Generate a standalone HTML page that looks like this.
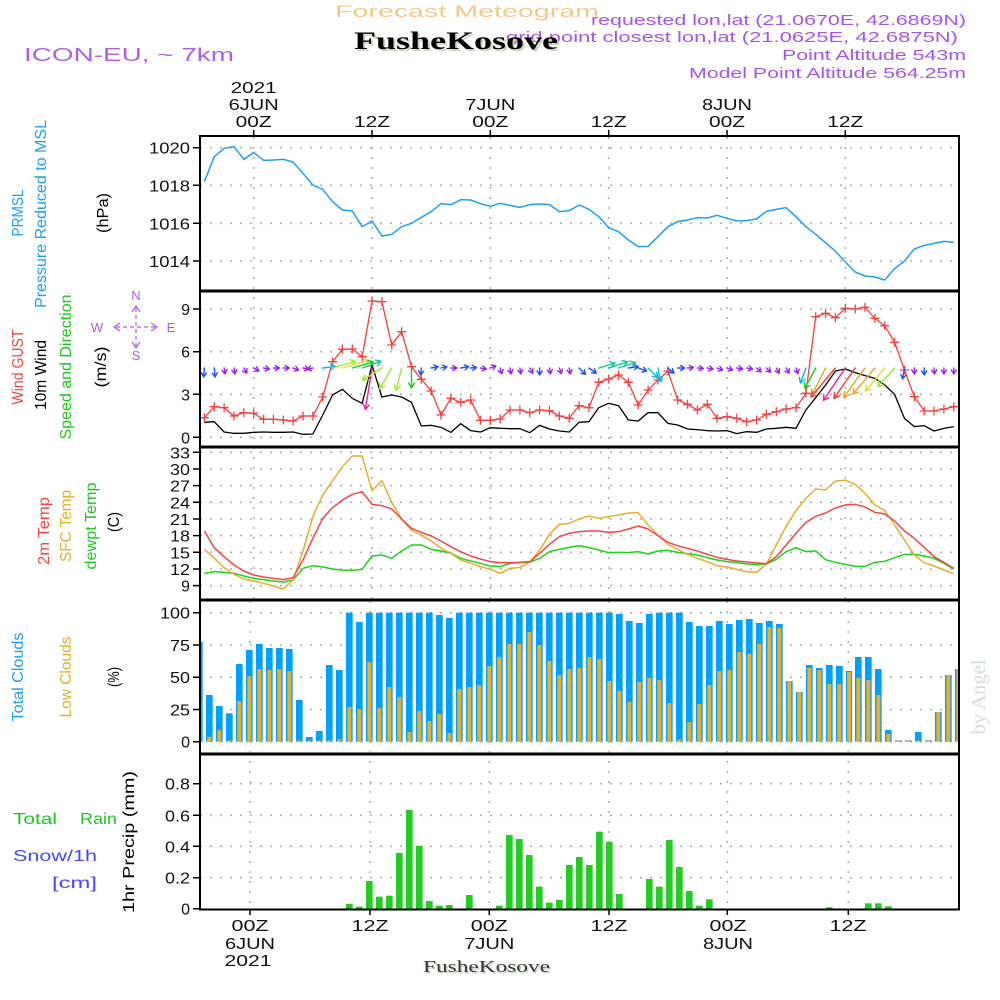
<!DOCTYPE html>
<html><head><meta charset="utf-8"><style>
html,body{margin:0;padding:0;background:#fff;}
svg{display:block;}
text{font-family:"Liberation Sans",sans-serif;}
.serif{font-family:"Liberation Serif",serif;}
.g{stroke:#b0b0b0;stroke-width:1.6;stroke-dasharray:2 8;fill:none;}
.ln{fill:none;vector-effect:non-scaling-stroke;stroke-linejoin:round;}
.ax{stroke:#000;stroke-width:1.5;}
.yl{font-size:16px;fill:#111;text-anchor:end;}
.tl{font-size:16px;fill:#111;text-anchor:middle;}
.ar{fill:none;stroke-width:1.4;stroke-linecap:round;stroke-linejoin:round;}
</style></head><body>
<svg width="1000" height="1000" viewBox="0 0 1000 1000" xmlns="http://www.w3.org/2000/svg">
<defs>
<clipPath id="plot"><rect x="200" y="136" width="759" height="774"/></clipPath>
<marker id="plus" viewBox="-5 -5 10 10" markerWidth="10" markerHeight="10" markerUnits="userSpaceOnUse" refX="0" refY="0" overflow="visible"><path d="M-4.5 0H4.5M0 -4.5V4.5" stroke="#f54040" stroke-width="1.3" fill="none"/></marker>
</defs>
<rect width="1000" height="1000" fill="#fff"/>

<!-- Header -->
<text x="335" y="17" font-size="17" fill="#f3c88c" textLength="264" lengthAdjust="spacingAndGlyphs">Forecast Meteogram</text>
<text x="591" y="25" font-size="15" fill="#a855e6" textLength="375" lengthAdjust="spacingAndGlyphs">requested lon,lat (21.0670E, 42.6869N)</text>
<text x="506" y="42" font-size="15" fill="#a855e6" textLength="452" lengthAdjust="spacingAndGlyphs">grid point closest lon,lat (21.0625E, 42.6875N)</text>
<text x="356" y="51" font-size="25" font-weight="bold" class="serif" fill="#c4d4bc" textLength="204" lengthAdjust="spacingAndGlyphs">FusheKosove</text>
<text x="354" y="49" font-size="25" font-weight="bold" class="serif" fill="#000" textLength="204" lengthAdjust="spacingAndGlyphs">FusheKosove</text>
<text x="24" y="61" font-size="18" fill="#b060e8" textLength="210" lengthAdjust="spacingAndGlyphs">ICON-EU, ~ 7km</text>
<text x="782" y="60" font-size="15" fill="#a855e6" textLength="184" lengthAdjust="spacingAndGlyphs">Point Altitude 543m</text>
<text x="689" y="78" font-size="15" fill="#a855e6" textLength="277" lengthAdjust="spacingAndGlyphs">Model Point Altitude 564.25m</text>

<!-- Top time labels -->
<text class="tl" x="253.7" y="93" textLength="46" lengthAdjust="spacingAndGlyphs">2021</text>
<text class="tl" x="253.7" y="110" textLength="50" lengthAdjust="spacingAndGlyphs">6JUN</text>
<text class="tl" x="253.7" y="127" textLength="36" lengthAdjust="spacingAndGlyphs">00Z</text>
<text class="tl" x="372" y="127" textLength="36" lengthAdjust="spacingAndGlyphs">12Z</text>
<text class="tl" x="490.3" y="110" textLength="50" lengthAdjust="spacingAndGlyphs">7JUN</text>
<text class="tl" x="490.3" y="127" textLength="36" lengthAdjust="spacingAndGlyphs">00Z</text>
<text class="tl" x="608.7" y="127" textLength="36" lengthAdjust="spacingAndGlyphs">12Z</text>
<text class="tl" x="727" y="110" textLength="50" lengthAdjust="spacingAndGlyphs">8JUN</text>
<text class="tl" x="727" y="127" textLength="36" lengthAdjust="spacingAndGlyphs">00Z</text>
<text class="tl" x="845.3" y="127" textLength="36" lengthAdjust="spacingAndGlyphs">12Z</text>

<!-- Bottom time labels -->
<text class="tl" x="250" y="931" textLength="37" lengthAdjust="spacingAndGlyphs">00Z</text>
<text class="tl" x="250" y="949" textLength="50" lengthAdjust="spacingAndGlyphs">6JUN</text>
<text class="tl" x="248" y="966" textLength="47" lengthAdjust="spacingAndGlyphs">2021</text>
<text class="tl" x="370" y="931" textLength="37" lengthAdjust="spacingAndGlyphs">12Z</text>
<text class="tl" x="489.3" y="931" textLength="37" lengthAdjust="spacingAndGlyphs">00Z</text>
<text class="tl" x="489.3" y="949" textLength="50" lengthAdjust="spacingAndGlyphs">7JUN</text>
<text class="tl" x="609" y="931" textLength="37" lengthAdjust="spacingAndGlyphs">12Z</text>
<text class="tl" x="728" y="931" textLength="37" lengthAdjust="spacingAndGlyphs">00Z</text>
<text class="tl" x="728" y="949" textLength="50" lengthAdjust="spacingAndGlyphs">8JUN</text>
<text class="tl" x="848" y="931" textLength="37" lengthAdjust="spacingAndGlyphs">12Z</text>
<text x="424.5" y="973.5" font-size="17" class="serif" fill="#bcd4bc" textLength="127" lengthAdjust="spacingAndGlyphs">FusheKosove</text>
<text x="423" y="972" font-size="17" class="serif" fill="#333" textLength="127" lengthAdjust="spacingAndGlyphs">FusheKosove</text>

<!-- Left rotated labels -->
<g font-size="16">
<text transform="translate(23 213) rotate(-90)" text-anchor="middle" fill="#1ea0f5" textLength="47" lengthAdjust="spacingAndGlyphs">PRMSL</text>
<text transform="translate(46 214) rotate(-90)" text-anchor="middle" fill="#1ea0f5" textLength="188" lengthAdjust="spacingAndGlyphs">Pressure Reduced to MSL</text>
<text transform="translate(108 213) rotate(-90)" text-anchor="middle" fill="#000" textLength="40" lengthAdjust="spacingAndGlyphs">(hPa)</text>
<text transform="translate(23 367) rotate(-90)" text-anchor="middle" fill="#f04646" textLength="75" lengthAdjust="spacingAndGlyphs">Wind GUST</text>
<text transform="translate(46 375) rotate(-90)" text-anchor="middle" fill="#000" textLength="70" lengthAdjust="spacingAndGlyphs">10m Wind</text>
<text transform="translate(71 367) rotate(-90)" text-anchor="middle" fill="#1ec81e" textLength="145" lengthAdjust="spacingAndGlyphs">Speed and Direction</text>
<text transform="translate(106 367) rotate(-90)" text-anchor="middle" fill="#000" textLength="41" lengthAdjust="spacingAndGlyphs">(m/s)</text>
<text transform="translate(49 531) rotate(-90)" text-anchor="middle" fill="#f04646" textLength="68" lengthAdjust="spacingAndGlyphs">2m Temp</text>
<text transform="translate(71 526) rotate(-90)" text-anchor="middle" fill="#e6af2d" textLength="72" lengthAdjust="spacingAndGlyphs">SFC Temp</text>
<text transform="translate(96 526) rotate(-90)" text-anchor="middle" fill="#1ec81e" textLength="87" lengthAdjust="spacingAndGlyphs">dewpt Temp</text>
<text transform="translate(119 522) rotate(-90)" text-anchor="middle" fill="#000" textLength="20" lengthAdjust="spacingAndGlyphs">(C)</text>
<text transform="translate(23 677) rotate(-90)" text-anchor="middle" fill="#1ea0f5" textLength="89" lengthAdjust="spacingAndGlyphs">Total Clouds</text>
<text transform="translate(71 677) rotate(-90)" text-anchor="middle" fill="#e6af2d" textLength="81" lengthAdjust="spacingAndGlyphs">Low Clouds</text>
<text transform="translate(119 677) rotate(-90)" text-anchor="middle" fill="#000" textLength="20" lengthAdjust="spacingAndGlyphs">(%)</text>
<text transform="translate(134 842) rotate(-90)" text-anchor="middle" fill="#000" textLength="142" lengthAdjust="spacingAndGlyphs">1hr Precip (mm)</text>
<text x="13" y="824" fill="#1ec81e" textLength="44" lengthAdjust="spacingAndGlyphs">Total</text>
<text x="80" y="824" fill="#1ec81e" textLength="37" lengthAdjust="spacingAndGlyphs">Rain</text>
<text x="13" y="861" fill="#4646ff" textLength="84" lengthAdjust="spacingAndGlyphs">Snow/1h</text>
<text x="52" y="888" fill="#4646ff" textLength="45" lengthAdjust="spacingAndGlyphs">[cm]</text>
</g>
<text transform="translate(985 697) rotate(-90)" text-anchor="middle" class="serif" font-size="20" fill="#d2dfd2" textLength="75" lengthAdjust="spacingAndGlyphs">by Angel</text>

<!-- Compass -->
<g fill="#b45ae6" font-size="13" text-anchor="middle">
<text x="136" y="300">N</text>
<text x="97" y="332">W</text>
<text x="171" y="332">E</text>
<text x="136" y="360">S</text>
</g>
<g stroke="#b45ae6" stroke-width="1.2" fill="none">
<path d="M120 323L114 327L120 331M151 323L157 327L151 331M132 312L136 306L140 312M132 342L136 348L140 342"/>
<path d="M116 327H156M136 308V346" stroke-dasharray="4 3"/>
</g>

<!-- Y axis labels -->
<g class="yl">
<text x="190" y="153.7" textLength="41" lengthAdjust="spacingAndGlyphs">1020</text>
<text x="190" y="191.3" textLength="41" lengthAdjust="spacingAndGlyphs">1018</text>
<text x="190" y="229.3" textLength="41" lengthAdjust="spacingAndGlyphs">1016</text>
<text x="190" y="267" textLength="41" lengthAdjust="spacingAndGlyphs">1014</text>
<text x="190" y="315">9</text>
<text x="190" y="357.7">6</text>
<text x="190" y="400.3">3</text>
<text x="190" y="443.3">0</text>
<text x="190" y="458.3" textLength="20" lengthAdjust="spacingAndGlyphs">33</text>
<text x="190" y="475" textLength="20" lengthAdjust="spacingAndGlyphs">30</text>
<text x="190" y="491.6" textLength="20" lengthAdjust="spacingAndGlyphs">27</text>
<text x="190" y="508.3" textLength="20" lengthAdjust="spacingAndGlyphs">24</text>
<text x="190" y="525" textLength="20" lengthAdjust="spacingAndGlyphs">21</text>
<text x="190" y="541.6" textLength="20" lengthAdjust="spacingAndGlyphs">18</text>
<text x="190" y="558.3" textLength="20" lengthAdjust="spacingAndGlyphs">15</text>
<text x="190" y="575" textLength="20" lengthAdjust="spacingAndGlyphs">12</text>
<text x="190" y="591.6">9</text>
<text x="190" y="618.7" textLength="30" lengthAdjust="spacingAndGlyphs">100</text>
<text x="190" y="651" textLength="20" lengthAdjust="spacingAndGlyphs">75</text>
<text x="190" y="683.2" textLength="20" lengthAdjust="spacingAndGlyphs">50</text>
<text x="190" y="715.5" textLength="20" lengthAdjust="spacingAndGlyphs">25</text>
<text x="190" y="747.7">0</text>
<text x="190" y="789.7" textLength="25" lengthAdjust="spacingAndGlyphs">0.8</text>
<text x="190" y="821.3" textLength="25" lengthAdjust="spacingAndGlyphs">0.6</text>
<text x="190" y="852.3" textLength="25" lengthAdjust="spacingAndGlyphs">0.4</text>
<text x="190" y="883.7" textLength="25" lengthAdjust="spacingAndGlyphs">0.2</text>
<text x="190" y="914.7">0</text>
</g>
<g class="ax">
<path d="M193 147.7H200M193 185.3H200M193 223.3H200M193 261H200M193 309H200M193 351.7H200M193 394.3H200M193 437.3H200M193 452.3H200M193 469H200M193 485.6H200M193 502.3H200M193 519H200M193 535.6H200M193 552.3H200M193 569H200M193 585.6H200M193 612.7H200M193 645H200M193 677.2H200M193 709.5H200M193 741.7H200M193 783.7H200M193 815.3H200M193 846.3H200M193 877.7H200M193 908.7H200"/>
<path d="M253.7 130V136M372 130V136M490.3 130V136M608.7 130V136M727 130V136M845.3 130V136"/>
<path d="M250 909V915M370 909V915M489.3 909V915M609 909V915M727.3 909V915M848.3 909V915"/>
</g>

<!-- Grids -->
<path class="g" d="M200 147.7H959M200 185.3H959M200 223.3H959M200 261H959
M200 309H959M200 351.7H959M200 394.3H959M200 437.3H959
M200 452.3H959M200 469H959M200 485.6H959M200 502.3H959M200 519H959M200 535.6H959M200 552.3H959M200 569H959M200 585.6H959
M200 612.7H959M200 645H959M200 677.2H959M200 709.5H959M200 741.7H959
M200 783.7H959M200 815.3H959M200 846.3H959M200 877.7H959"/>
<path class="g" d="M253.7 137V600M372 137V600M490.3 137V600M608.7 137V600M727 137V600M845.3 137V600
M250 601V908M370 601V908M489.3 601V908M609 601V908M727.3 601V908M848.3 601V908"/>

<g clip-path="url(#plot)">
<!-- Pressure -->
<polyline class="ln" stroke="#1ea0f5" stroke-width="1.5" transform="matrix(9.86 0 0 0.33333 253.7 130)" points="-5,155 -4,80 -3,55 -2,50 -1,88 0,67 1,91 2,90 3,88 4,96 5,130 6,165 7,178 8,215 9,240 10,243 11,290 12,273 13,318 14,313 15,290 16,280 17,262 18,245 19,221 20,224 21,209 22,210 23,221 24,229 25,220 26,226 27,232 28,224 29,222 30,224 31,245 32,242 33,225 34,238 35,260 36,293 37,305 38,330 39,350 40,349 41,320 42,290 43,275 44,270 45,263 46,264 47,256 48,265 49,273 50,272 51,267 52,244 53,238 54,233 55,260 56,290 57,313 58,338 59,364 60,396 61,426 62,438 63,441 64,450 65,416 66,393 67,357 68,346 69,340 70,334 71,337"/>

<!-- Wind speed black -->
<polyline class="ln" stroke="#000" stroke-width="1.3" transform="matrix(9.86 0 0 0.33333 253.7 285)" points="-5,412 -4,410 -3,441 -2,445 -1,445 0,442 1,441 2,442 3,442 4,441 5,448 6,447 7,390 8,330 9,313 10,340 11,355 12,240 13,336 14,330 15,336 16,352 17,423 18,421 19,427 20,442 21,416 22,437 23,441 24,428 25,430 26,431 27,431 28,443 29,421 30,432 31,438 32,441 33,412 34,410 35,368 36,355 37,362 38,405 39,408 40,383 41,383 42,415 43,420 44,432 45,434 46,437 47,438 48,437 49,446 50,440 51,442 52,432 53,430 54,427 55,430 56,375 57,338 58,300 59,258 60,252 61,263 62,272 63,280 64,300 65,328 66,400 67,425 68,422 69,438 70,430 71,425"/>

<!-- Gust red with plus markers -->
<polyline fill="none" stroke="#f54040" stroke-width="1.3" marker-start="url(#plus)" marker-mid="url(#plus)" marker-end="url(#plus)" points="204.4,417.7 214.3,406.7 224.1,407.7 234,416 243.8,412.7 253.7,413.3 263.6,419.3 273.4,419.3 283.3,420 293.1,421 303,416 312.9,416 322.7,397 332.6,361.7 342.4,349.3 352.3,349 362.2,356.7 372,301 381.9,301.7 391.7,345 401.6,331.7 411.5,366.7 421.3,379.3 431.2,391 441,415 450.9,398.3 460.8,402.3 470.6,400 480.5,420.3 490.3,420.3 500.2,419 510.1,410 519.9,410 529.8,412.7 539.6,410 549.5,410.7 559.4,416 569.2,418.3 579.1,405.7 588.9,407.7 598.8,382.3 608.7,379 618.5,375 628.4,382.3 638.2,405 648.1,390 658,380 667.8,371 677.7,400 687.5,404.3 697.4,410 707.3,404.3 717.1,418.3 727,416.7 736.8,418.3 746.7,421.7 756.6,420 766.4,414.3 776.3,411.7 786.1,409 796,407.7 805.9,393.3 815.7,316.7 825.6,313.3 835.4,317.7 845.3,308.3 855.2,309 865,307.3 874.9,318.3 884.7,325.7 894.6,342.3 904.5,370 914.3,396.7 924.2,411 934,411 943.9,409 953.8,406.7"/>

<!-- Wind arrows -->
<g class="ar">
<path stroke="#1e50ff" transform="translate(204.4 368) rotate(95)" d="M0 0H9M5 -2.5L9 0L5 2.5"/>
<path stroke="#1e50ff" transform="translate(214.3 368) rotate(85)" d="M0 0H9M5 -2.5L9 0L5 2.5"/>
<path stroke="#a020f0" transform="translate(224.1 368) rotate(80)" d="M0 0H6M2 -2.5L6 0L2 2.5"/>
<path stroke="#a020f0" transform="translate(234 368) rotate(80)" d="M0 0H6M2 -2.5L6 0L2 2.5"/>
<path stroke="#a020f0" transform="translate(243.8 368) rotate(60)" d="M0 0H6M2 -2.5L6 0L2 2.5"/>
<path stroke="#a020f0" transform="translate(253.7 368) rotate(30)" d="M0 0H6M2 -2.5L6 0L2 2.5"/>
<path stroke="#a020f0" transform="translate(263.6 368) rotate(10)" d="M0 0H6M2 -2.5L6 0L2 2.5"/>
<path stroke="#a020f0" transform="translate(273.4 368) rotate(0)" d="M0 0H6M2 -2.5L6 0L2 2.5"/>
<path stroke="#a020f0" transform="translate(283.3 368) rotate(0)" d="M0 0H6M2 -2.5L6 0L2 2.5"/>
<path stroke="#a020f0" transform="translate(293.1 368) rotate(20)" d="M0 0H6M2 -2.5L6 0L2 2.5"/>
<path stroke="#a020f0" transform="translate(303 368) rotate(10)" d="M0 0H6M2 -2.5L6 0L2 2.5"/>
<path stroke="#a020f0" transform="translate(312.9 368) rotate(170)" d="M0 0H6M2 -2.5L6 0L2 2.5"/>
<path stroke="#00c0f0" transform="translate(322.7 368) rotate(-7)" d="M0 0H13M8 -3L13 0L8 3"/>
<path stroke="#a0e632" transform="translate(332.6 368) rotate(-16)" d="M0 0H24M19 -3L24 0L19 3"/>
<path stroke="#e6dc32" transform="translate(342.4 368) rotate(-16)" d="M0 0H28M23 -3L28 0L23 3"/>
<path stroke="#1ec81e" transform="translate(352.3 368) rotate(-16)" d="M0 0H22M17 -3L22 0L17 3"/>
<path stroke="#10cc96" transform="translate(362.2 368) rotate(-20)" d="M0 0H20M15 -3L20 0L15 3"/>
<path stroke="#f01ea0" transform="translate(372 368) rotate(99)" d="M0 0H42M37 -3L42 0L37 3"/>
<path stroke="#a0e632" transform="translate(381.9 368) rotate(148)" d="M0 0H23M18 -3L23 0L18 3"/>
<path stroke="#a0e632" transform="translate(391.7 368) rotate(120)" d="M0 0H24M19 -3L24 0L19 3"/>
<path stroke="#a0e632" transform="translate(401.6 368) rotate(104)" d="M0 0H23M18 -3L23 0L18 3"/>
<path stroke="#1ec81e" transform="translate(411.5 368) rotate(90)" d="M0 0H20M15 -3L20 0L15 3"/>
<path stroke="#1e50ff" transform="translate(421.3 368) rotate(95)" d="M0 0H7M3 -2.5L7 0L3 2.5"/>
<path stroke="#1e50ff" transform="translate(431.2 368) rotate(-10)" d="M0 0H7M3 -2.5L7 0L3 2.5"/>
<path stroke="#1e50ff" transform="translate(441 368) rotate(-12)" d="M0 0H6M2 -2.5L6 0L2 2.5"/>
<path stroke="#a020f0" transform="translate(450.9 368) rotate(0)" d="M0 0H6M2 -2.5L6 0L2 2.5"/>
<path stroke="#1e50ff" transform="translate(460.8 368) rotate(-10)" d="M0 0H8M4 -2.5L8 0L4 2.5"/>
<path stroke="#1e50ff" transform="translate(470.6 368) rotate(-5)" d="M0 0H6M2 -2.5L6 0L2 2.5"/>
<path stroke="#a020f0" transform="translate(480.5 368) rotate(10)" d="M0 0H6M2 -2.5L6 0L2 2.5"/>
<path stroke="#a020f0" transform="translate(490.3 368) rotate(-20)" d="M0 0H6M2 -2.5L6 0L2 2.5"/>
<path stroke="#a020f0" transform="translate(500.2 368) rotate(75)" d="M0 0H6M2 -2.5L6 0L2 2.5"/>
<path stroke="#a020f0" transform="translate(510.1 368) rotate(80)" d="M0 0H6M2 -2.5L6 0L2 2.5"/>
<path stroke="#a020f0" transform="translate(519.9 368) rotate(80)" d="M0 0H6M2 -2.5L6 0L2 2.5"/>
<path stroke="#a020f0" transform="translate(529.8 368) rotate(60)" d="M0 0H6M2 -2.5L6 0L2 2.5"/>
<path stroke="#1e50ff" transform="translate(539.6 368) rotate(90)" d="M0 0H7M3 -2.5L7 0L3 2.5"/>
<path stroke="#a020f0" transform="translate(549.5 368) rotate(80)" d="M0 0H6M2 -2.5L6 0L2 2.5"/>
<path stroke="#a020f0" transform="translate(559.4 368) rotate(70)" d="M0 0H6M2 -2.5L6 0L2 2.5"/>
<path stroke="#a020f0" transform="translate(569.2 368) rotate(80)" d="M0 0H6M2 -2.5L6 0L2 2.5"/>
<path stroke="#1e50ff" transform="translate(579.1 368) rotate(45)" d="M0 0H9M5 -2.5L9 0L5 2.5"/>
<path stroke="#1e50ff" transform="translate(588.9 368) rotate(35)" d="M0 0H9M5 -2.5L9 0L5 2.5"/>
<path stroke="#10cc96" transform="translate(598.8 368) rotate(-17)" d="M0 0H17M12 -3L17 0L12 3"/>
<path stroke="#10cc96" transform="translate(608.7 368) rotate(-18)" d="M0 0H20M15 -3L20 0L15 3"/>
<path stroke="#10cc96" transform="translate(618.5 368) rotate(-18)" d="M0 0H18M13 -3L18 0L13 3"/>
<path stroke="#1e50ff" transform="translate(628.4 368) rotate(-8)" d="M0 0H10M6 -2.5L10 0L6 2.5"/>
<path stroke="#1e50ff" transform="translate(638.2 368) rotate(20)" d="M0 0H9M5 -2.5L9 0L5 2.5"/>
<path stroke="#00c0e8" transform="translate(648.1 368) rotate(45)" d="M0 0H14M9 -3L14 0L9 3"/>
<path stroke="#00c0e8" transform="translate(658 368) rotate(80)" d="M0 0H14M9 -3L14 0L9 3"/>
<path stroke="#1e50ff" transform="translate(667.8 368) rotate(40)" d="M0 0H8M4 -2.5L8 0L4 2.5"/>
<path stroke="#1e50ff" transform="translate(677.7 368) rotate(0)" d="M0 0H7M3 -2.5L7 0L3 2.5"/>
<path stroke="#a020f0" transform="translate(687.5 368) rotate(-5)" d="M0 0H6M2 -2.5L6 0L2 2.5"/>
<path stroke="#a020f0" transform="translate(697.4 368) rotate(5)" d="M0 0H6M2 -2.5L6 0L2 2.5"/>
<path stroke="#a020f0" transform="translate(707.3 368) rotate(10)" d="M0 0H6M2 -2.5L6 0L2 2.5"/>
<path stroke="#a020f0" transform="translate(717.1 368) rotate(20)" d="M0 0H6M2 -2.5L6 0L2 2.5"/>
<path stroke="#a020f0" transform="translate(727 368) rotate(20)" d="M0 0H6M2 -2.5L6 0L2 2.5"/>
<path stroke="#a020f0" transform="translate(736.8 368) rotate(10)" d="M0 0H6M2 -2.5L6 0L2 2.5"/>
<path stroke="#a020f0" transform="translate(746.7 368) rotate(10)" d="M0 0H6M2 -2.5L6 0L2 2.5"/>
<path stroke="#a020f0" transform="translate(756.6 368) rotate(40)" d="M0 0H6M2 -2.5L6 0L2 2.5"/>
<path stroke="#a020f0" transform="translate(766.4 368) rotate(45)" d="M0 0H6M2 -2.5L6 0L2 2.5"/>
<path stroke="#a020f0" transform="translate(776.3 368) rotate(60)" d="M0 0H6M2 -2.5L6 0L2 2.5"/>
<path stroke="#a020f0" transform="translate(786.1 368) rotate(60)" d="M0 0H6M2 -2.5L6 0L2 2.5"/>
<path stroke="#a020f0" transform="translate(796 368) rotate(70)" d="M0 0H6M2 -2.5L6 0L2 2.5"/>
<path stroke="#00c0e8" transform="translate(805.9 368) rotate(110)" d="M0 0H16M11 -3L16 0L11 3"/>
<path stroke="#1ec81e" transform="translate(815.7 368) rotate(118)" d="M0 0H23M18 -3L23 0L18 3"/>
<path stroke="#f0a028" transform="translate(825.6 368) rotate(117)" d="M0 0H30M25 -3L30 0L25 3"/>
<path stroke="#f03c3c" transform="translate(835.4 368) rotate(130)" d="M0 0H38M33 -3L38 0L33 3"/>
<path stroke="#f01ea0" transform="translate(845.3 368) rotate(124)" d="M0 0H39M34 -3L39 0L34 3"/>
<path stroke="#f03c3c" transform="translate(855.2 368) rotate(125)" d="M0 0H37M32 -3L37 0L32 3"/>
<path stroke="#f0a028" transform="translate(865 368) rotate(126)" d="M0 0H36M31 -3L36 0L31 3"/>
<path stroke="#f0a028" transform="translate(874.9 368) rotate(130)" d="M0 0H34M29 -3L34 0L29 3"/>
<path stroke="#e6dc32" transform="translate(884.7 368) rotate(130)" d="M0 0H30M25 -3L30 0L25 3"/>
<path stroke="#a0e632" transform="translate(894.6 368) rotate(132)" d="M0 0H25M20 -3L25 0L20 3"/>
<path stroke="#1e50ff" transform="translate(904.5 368) rotate(100)" d="M0 0H11M7 -2.5L11 0L7 2.5"/>
<path stroke="#a020f0" transform="translate(914.3 368) rotate(90)" d="M0 0H6M2 -2.5L6 0L2 2.5"/>
<path stroke="#1e50ff" transform="translate(924.2 368) rotate(90)" d="M0 0H7M3 -2.5L7 0L3 2.5"/>
<path stroke="#a020f0" transform="translate(934 368) rotate(85)" d="M0 0H6M2 -2.5L6 0L2 2.5"/>
<path stroke="#a020f0" transform="translate(943.9 368) rotate(90)" d="M0 0H6M2 -2.5L6 0L2 2.5"/>
<path stroke="#a020f0" transform="translate(953.8 368) rotate(90)" d="M0 0H6M2 -2.5L6 0L2 2.5"/>
</g>

<!-- Temperatures -->
<polyline class="ln" stroke="#1ed21e" stroke-width="1.5" transform="matrix(9.86 0 0 0.33333 253.7 445)" points="-5,385 -4,380 -3,382 -2,385 -1,393 0,400 1,404 2,408 3,411 4,405 5,370 6,362 7,366 8,372 9,375 10,376 11,373 12,333 13,330 14,340 15,318 16,300 17,300 18,313 19,318 20,325 21,340 22,348 23,355 24,363 25,365 26,355 27,352 28,352 29,340 30,320 31,313 32,307 33,302 34,308 35,315 36,323 37,322 38,323 39,320 40,327 41,318 42,316 43,322 44,326 45,330 46,338 47,345 48,350 49,353 50,357 51,359 52,357 53,343 54,320 55,308 56,320 57,318 58,344 59,352 60,358 61,364 62,364 63,352 64,349 65,338 66,328 67,328 68,333 69,340 70,355 71,372"/>
<polyline class="ln" stroke="#e6af2d" stroke-width="1.5" transform="matrix(9.86 0 0 0.33333 253.7 445)" points="-5,313 -4,340 -3,368 -2,388 -1,402 0,408 1,415 2,423 3,432 4,405 5,318 6,215 7,150 8,107 9,65 10,33 11,33 12,137 13,107 14,172 15,222 16,256 17,270 18,288 19,310 20,325 21,345 22,355 23,365 24,373 25,385 26,370 27,367 28,352 29,315 30,268 31,238 32,235 33,222 34,213 35,220 36,214 37,210 38,204 39,203 40,240 41,270 42,298 43,313 44,328 45,340 46,350 47,362 48,366 49,373 50,380 51,382 52,357 53,300 54,244 55,197 56,160 57,132 58,135 59,108 60,106 61,118 62,145 63,180 64,196 65,240 66,285 67,330 68,353 69,363 70,375 71,386"/>
<polyline class="ln" stroke="#f54646" stroke-width="1.5" transform="matrix(9.86 0 0 0.33333 253.7 445)" points="-5,258 -4,308 -3,335 -2,360 -1,378 0,390 1,396 2,400 3,404 4,398 5,345 6,280 7,220 8,188 9,165 10,148 11,140 12,178 13,182 14,192 15,222 16,250 17,262 18,273 19,288 20,305 21,320 22,333 23,342 24,350 25,353 26,353 27,352 28,350 29,325 30,298 31,275 32,265 33,260 34,258 35,258 36,262 37,260 38,252 39,243 40,252 41,272 42,292 43,302 44,310 45,318 46,328 47,337 48,343 49,348 50,351 51,354 52,356 53,335 54,300 55,265 56,232 57,214 58,204 59,189 60,180 61,178 62,186 63,202 64,207 65,228 66,258 67,280 68,307 69,335 70,352 71,370"/>

<!-- Clouds: total (blue) -->
<g fill="#00a0ff" transform="translate(0 600) scale(1 0.33333)">
<rect x="195.95" y="125" width="6.7" height="300"/><rect x="205.95" y="285" width="6.7" height="140"/><rect x="215.95" y="318" width="6.7" height="107"/><rect x="225.95" y="340" width="6.7" height="85"/><rect x="235.95" y="192" width="6.7" height="233"/><rect x="245.95" y="150" width="6.7" height="275"/><rect x="255.95" y="132" width="6.7" height="293"/><rect x="265.95" y="144" width="6.7" height="281"/><rect x="275.95" y="144" width="6.7" height="281"/><rect x="285.95" y="147" width="6.7" height="278"/><rect x="295.95" y="300" width="6.7" height="125"/><rect x="305.95" y="411" width="6.7" height="14"/><rect x="315.95" y="393" width="6.7" height="32"/><rect x="325.95" y="195" width="6.7" height="230"/><rect x="335.95" y="210" width="6.7" height="215"/><rect x="345.95" y="38" width="6.7" height="387"/><rect x="355.95" y="66" width="6.7" height="359"/><rect x="365.95" y="38" width="6.7" height="387"/><rect x="375.95" y="38" width="6.7" height="387"/><rect x="385.95" y="38" width="6.7" height="387"/><rect x="395.95" y="38" width="6.7" height="387"/><rect x="405.95" y="38" width="6.7" height="387"/><rect x="415.95" y="38" width="6.7" height="387"/><rect x="425.95" y="38" width="6.7" height="387"/><rect x="435.95" y="45" width="6.7" height="380"/><rect x="445.95" y="54" width="6.7" height="371"/><rect x="455.95" y="38" width="6.7" height="387"/><rect x="465.95" y="38" width="6.7" height="387"/><rect x="475.95" y="38" width="6.7" height="387"/><rect x="485.95" y="38" width="6.7" height="387"/><rect x="495.95" y="38" width="6.7" height="387"/><rect x="505.95" y="38" width="6.7" height="387"/><rect x="515.95" y="38" width="6.7" height="387"/><rect x="525.95" y="38" width="6.7" height="387"/><rect x="535.95" y="38" width="6.7" height="387"/><rect x="545.95" y="38" width="6.7" height="387"/><rect x="555.95" y="38" width="6.7" height="387"/><rect x="565.95" y="38" width="6.7" height="387"/><rect x="575.95" y="38" width="6.7" height="387"/><rect x="585.95" y="38" width="6.7" height="387"/><rect x="595.95" y="38" width="6.7" height="387"/><rect x="605.95" y="38" width="6.7" height="387"/><rect x="615.95" y="42" width="6.7" height="383"/><rect x="625.95" y="63" width="6.7" height="362"/><rect x="635.95" y="69" width="6.7" height="356"/><rect x="645.95" y="42" width="6.7" height="383"/><rect x="655.95" y="38" width="6.7" height="387"/><rect x="665.95" y="38" width="6.7" height="387"/><rect x="675.95" y="38" width="6.7" height="387"/><rect x="685.95" y="66" width="6.7" height="359"/><rect x="695.95" y="78" width="6.7" height="347"/><rect x="705.95" y="78" width="6.7" height="347"/><rect x="715.95" y="63" width="6.7" height="362"/><rect x="725.95" y="72" width="6.7" height="353"/><rect x="735.95" y="60" width="6.7" height="365"/><rect x="745.95" y="57" width="6.7" height="368"/><rect x="755.95" y="69" width="6.7" height="356"/><rect x="765.95" y="63" width="6.7" height="362"/><rect x="775.95" y="72" width="6.7" height="353"/><rect x="785.95" y="243" width="6.7" height="182"/><rect x="795.95" y="276" width="6.7" height="149"/><rect x="805.95" y="195" width="6.7" height="230"/><rect x="815.95" y="204" width="6.7" height="221"/><rect x="825.95" y="195" width="6.7" height="230"/><rect x="835.95" y="198" width="6.7" height="227"/><rect x="845.95" y="213" width="6.2" height="212"/><rect x="854.95" y="171" width="6.7" height="254"/><rect x="864.95" y="171" width="6.7" height="254"/><rect x="874.95" y="207" width="6.7" height="218"/><rect x="884.95" y="390" width="6.7" height="35"/><rect x="894.95" y="421" width="6.7" height="4"/><rect x="904.95" y="421" width="6.7" height="4"/><rect x="914.95" y="396" width="6.7" height="29"/><rect x="924.95" y="421" width="6.7" height="4"/><rect x="934.95" y="336" width="6.7" height="89"/><rect x="944.95" y="225" width="6.7" height="200"/><rect x="954.95" y="207" width="6.7" height="218"/>
</g>
<!-- Clouds: low (orange) -->
<g fill="#e6af2d" transform="translate(0 600) scale(1 0.33333)">
<rect x="197.3" y="303" width="4" height="122"/><rect x="207.3" y="410" width="4" height="15"/><rect x="217.3" y="390" width="4" height="35"/><rect x="227.3" y="421" width="4" height="4"/><rect x="237.3" y="303" width="4" height="122"/><rect x="247.3" y="228" width="4" height="197"/><rect x="257.3" y="207" width="4" height="218"/><rect x="267.3" y="210" width="4" height="215"/><rect x="277.3" y="207" width="4" height="218"/><rect x="287.3" y="213" width="4" height="212"/><rect x="297.3" y="421" width="4" height="4"/><rect x="307.3" y="421" width="4" height="4"/><rect x="317.3" y="421" width="4" height="4"/><rect x="327.3" y="421" width="4" height="4"/><rect x="337.3" y="418" width="4" height="7"/><rect x="347.3" y="321" width="4" height="104"/><rect x="357.3" y="327" width="4" height="98"/><rect x="367.3" y="186" width="4" height="239"/><rect x="377.3" y="324" width="4" height="101"/><rect x="387.3" y="261" width="4" height="164"/><rect x="397.3" y="291" width="4" height="134"/><rect x="407.3" y="396" width="4" height="29"/><rect x="417.3" y="333" width="4" height="92"/><rect x="427.3" y="363" width="4" height="62"/><rect x="437.3" y="342" width="4" height="83"/><rect x="447.3" y="399" width="4" height="26"/><rect x="457.3" y="267" width="4" height="158"/><rect x="467.3" y="261" width="4" height="164"/><rect x="477.3" y="255" width="4" height="170"/><rect x="487.3" y="198" width="4" height="227"/><rect x="497.3" y="171" width="4" height="254"/><rect x="507.3" y="132" width="4" height="293"/><rect x="517.3" y="132" width="4" height="293"/><rect x="527.3" y="96" width="4" height="329"/><rect x="537.3" y="135" width="4" height="290"/><rect x="547.3" y="183" width="4" height="242"/><rect x="557.3" y="225" width="4" height="200"/><rect x="567.3" y="207" width="4" height="218"/><rect x="577.3" y="204" width="4" height="221"/><rect x="587.3" y="171" width="4" height="254"/><rect x="597.3" y="177" width="4" height="248"/><rect x="607.3" y="243" width="4" height="182"/><rect x="617.3" y="273" width="4" height="152"/><rect x="627.3" y="306" width="4" height="119"/><rect x="637.3" y="246" width="4" height="179"/><rect x="647.3" y="234" width="4" height="191"/><rect x="657.3" y="240" width="4" height="185"/><rect x="667.3" y="309" width="4" height="116"/><rect x="677.3" y="418" width="4" height="7"/><rect x="687.3" y="366" width="4" height="59"/><rect x="697.3" y="312" width="4" height="113"/><rect x="707.3" y="255" width="4" height="170"/><rect x="717.3" y="213" width="4" height="212"/><rect x="727.3" y="210" width="4" height="215"/><rect x="737.3" y="156" width="4" height="269"/><rect x="747.3" y="162" width="4" height="263"/><rect x="757.3" y="132" width="4" height="293"/><rect x="767.3" y="81" width="4" height="344"/><rect x="777.3" y="84" width="4" height="341"/><rect x="787.3" y="243" width="4" height="182"/><rect x="797.3" y="276" width="4" height="149"/><rect x="807.3" y="204" width="4" height="221"/><rect x="817.3" y="210" width="4" height="215"/><rect x="827.3" y="252" width="4" height="173"/><rect x="837.3" y="252" width="4" height="173"/><rect x="847.1" y="216" width="4" height="209"/><rect x="856.3" y="234" width="4" height="191"/><rect x="866.3" y="240" width="4" height="185"/><rect x="876.3" y="285" width="4" height="140"/><rect x="886.3" y="402" width="4" height="23"/><rect x="896.3" y="421" width="4" height="4"/><rect x="906.3" y="421" width="4" height="4"/><rect x="916.3" y="421" width="4" height="4"/><rect x="926.3" y="421" width="4" height="4"/><rect x="936.3" y="336" width="4" height="89"/><rect x="946.3" y="225" width="4" height="200"/><rect x="956.3" y="207" width="4" height="218"/>
</g>

<!-- Precip bars -->
<g fill="#22cc22" transform="translate(0 750) scale(1 0.33333)">
<rect x="345.95" y="462" width="6.7" height="14"/><rect x="355.95" y="470" width="6.7" height="6"/><rect x="365.95" y="393" width="6.7" height="83"/><rect x="375.95" y="440" width="6.7" height="36"/><rect x="385.95" y="437" width="6.7" height="39"/><rect x="395.95" y="309" width="6.7" height="167"/><rect x="405.95" y="180" width="6.7" height="296"/><rect x="415.95" y="288" width="6.7" height="188"/><rect x="425.95" y="453" width="6.7" height="23"/><rect x="435.95" y="467" width="6.7" height="9"/><rect x="445.95" y="465" width="6.7" height="11"/><rect x="465.95" y="435" width="6.7" height="41"/><rect x="495.95" y="467" width="6.7" height="9"/><rect x="505.95" y="255" width="6.7" height="221"/><rect x="515.95" y="267" width="6.7" height="209"/><rect x="525.95" y="315" width="6.7" height="161"/><rect x="535.95" y="410" width="6.7" height="66"/><rect x="545.95" y="458" width="6.7" height="18"/><rect x="555.95" y="450" width="6.7" height="26"/><rect x="565.95" y="345" width="6.7" height="131"/><rect x="575.95" y="321" width="6.7" height="155"/><rect x="585.95" y="345" width="6.7" height="131"/><rect x="595.95" y="245" width="6.7" height="231"/><rect x="605.95" y="276" width="6.7" height="200"/><rect x="615.95" y="432" width="6.7" height="44"/><rect x="645.95" y="387" width="6.7" height="89"/><rect x="655.95" y="410" width="6.7" height="66"/><rect x="665.95" y="270" width="6.7" height="206"/><rect x="675.95" y="351" width="6.7" height="125"/><rect x="685.95" y="423" width="6.7" height="53"/><rect x="695.95" y="467" width="6.7" height="9"/><rect x="705.95" y="448" width="6.7" height="28"/><rect x="825.95" y="472" width="6.7" height="4"/><rect x="864.95" y="460" width="6.7" height="16"/><rect x="874.95" y="460" width="6.7" height="16"/><rect x="884.95" y="469" width="6.7" height="7"/>
</g>
</g>

<!-- Panel frames -->
<g fill="none" stroke="#000" stroke-width="2">
<rect x="200" y="136" width="759" height="155"/>
<rect x="200" y="291" width="759" height="156"/>
<rect x="200" y="447" width="759" height="153"/>
<rect x="200" y="600" width="759" height="154"/>
<rect x="200" y="754" width="759" height="155.5"/>
</g>
<path d="M200 291H959M200 447H959M200 600H959M200 754H959" stroke="#000" stroke-width="3"/>
</svg>
</body></html>
